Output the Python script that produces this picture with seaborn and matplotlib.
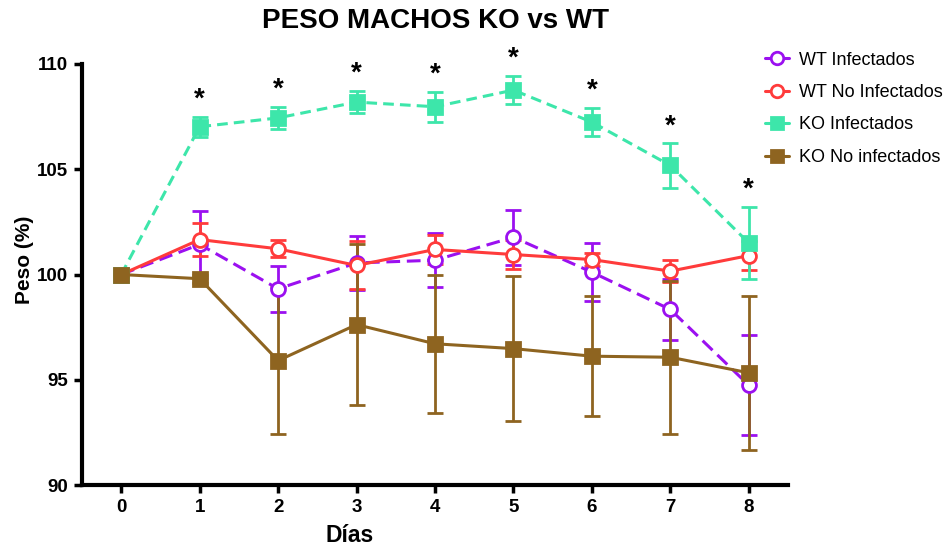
import matplotlib
matplotlib.use("Agg")
import matplotlib.pyplot as plt
import numpy as np
import pandas as pd
import seaborn as sns
from matplotlib.lines import Line2D

# ---- data ----
days = [0, 1, 2, 3, 4, 5, 6, 7, 8]
day_labels = ["0", "1", "2", "3", "4", "5", "6", "7", "8"]

wt_inf = [100.0, 101.43, 99.32, 100.55, 100.68, 101.77, 100.11, 98.34, 94.74]
wt_inf_err = [0.0, 1.6, 1.1, 1.3, 1.27, 1.3, 1.37, 1.45, 2.37]

wt_noinf = [100.0, 101.66, 101.22, 100.43, 101.19, 100.95, 100.71, 100.16, 100.9]
wt_noinf_err = [0.0, 0.78, 0.41, 1.14, 0.71, 0.71, 0.32, 0.53, 0.67]

ko_inf = [100.0, 107.02, 107.44, 108.19, 107.97, 108.76, 107.24, 105.18, 101.5]
ko_inf_err = [0.0, 0.47, 0.53, 0.54, 0.71, 0.67, 0.67, 1.05, 1.71]

ko_noinf = [100.0, 99.8, 95.91, 97.62, 96.71, 96.48, 96.12, 96.07, 95.33]
ko_noinf_err = [0.0, 0.2, 3.5, 3.83, 3.28, 3.43, 2.85, 3.63, 3.67]

signif_days = [1, 2, 3, 4, 5, 6, 7, 8]

group_names = ["WT Infectados", "WT No Infectados", "KO Infectados", "KO No infectados"]
colors = ["#9B10F0", "#FF3B3B", "#3DE6AA", "#8E6420"]

title = "PESO MACHOS KO vs WT"
xlabel = "Días"
ylabel = "Peso (%)"

# ---- styling ----
sns.set_style("ticks")
plt.rcParams["font.family"] = ["Liberation Sans", "DejaVu Sans"]
plt.rcParams["text.color"] = "black"
plt.rcParams["axes.labelcolor"] = "black"
plt.rcParams["xtick.color"] = "black"
plt.rcParams["ytick.color"] = "black"

fig = plt.figure(figsize=(9.48, 5.47), dpi=100)
ax = fig.add_axes([0.0865, 0.1133, 0.7447, 0.7697])

series = [
    (wt_inf, wt_inf_err, "o", "white", (0, (4.5, 2.2))),
    (wt_noinf, wt_noinf_err, "o", "white", "-"),
    (ko_inf, ko_inf_err, "s", None, (0, (3.5, 2))),
    (ko_noinf, ko_noinf_err, "s", None, "-"),
]

handles = []
for (vals, errs, mk, mfc, ls), name, col in zip(series, group_names, colors):
    df = pd.DataFrame({"Día": days, "Peso": vals})
    ax.errorbar(days, vals, yerr=errs, fmt="none", ecolor=col, elinewidth=2,
                capsize=6, capthick=2, zorder=2)
    kw = dict(marker=mk, markersize=10,
              markeredgecolor=col, markeredgewidth=2, linewidth=2.2,
              linestyle=ls)
    kw["markerfacecolor"] = mfc if mfc is not None else col
    sns.lineplot(data=df, x="Día", y="Peso", color=col, ax=ax, errorbar=None,
                 zorder=3, **kw)
    handles.append(Line2D([0], [0], color=col, linestyle="-", linewidth=2.2,
                          marker=mk, markersize=9, markeredgewidth=2,
                          markeredgecolor=col,
                          markerfacecolor=kw["markerfacecolor"]))

# significance asterisks above the KO Infectados error bars
for d in signif_days:
    i = days.index(d)
    ax.text(d, ko_inf[i] + ko_inf_err[i] + 0.2, "*", ha="center", va="bottom",
            fontsize=20, fontweight="bold", color="black")

ax.set_xlim(-0.5, 8.5)
ax.set_ylim(90, 110)
ax.set_xticks(days)
ax.set_xticklabels(day_labels)
ax.set_yticks([90, 95, 100, 105, 110])

for s in ["top", "right"]:
    ax.spines[s].set_visible(False)
for s in ["left", "bottom"]:
    ax.spines[s].set_linewidth(3)
    ax.spines[s].set_color("black")

ax.tick_params(axis="both", direction="out", length=6, width=2.5,
               labelsize=13.5, pad=4, colors="black", labelcolor="black")
for lab in ax.get_xticklabels() + ax.get_yticklabels():
    lab.set_fontweight("bold")

ax.set_xlabel(xlabel, fontsize=16.5, fontweight="bold", color="black")
ax.set_ylabel(ylabel, fontsize=15, fontweight="bold", color="black")
ax.xaxis.set_label_coords((350 - 82) / 706, -0.092)
ax.yaxis.set_label_coords(-0.068, 0.535)

fig.text(435 / 948, 1 - 21 / 547, title, ha="center", va="center",
         fontsize=20, fontweight="bold", color="black")

leg = fig.legend(handles, group_names, loc="upper left",
                 bbox_to_anchor=(0.79, 0.935), frameon=False, fontsize=13,
                 handlelength=1.3, handletextpad=0.6, labelspacing=0.85)
for t in leg.get_texts():
    t.set_color("black")
if ax.get_legend() is not None:
    ax.get_legend().remove()

ax.set_facecolor("white")
fig.patch.set_facecolor("white")
fig.savefig("out.png", dpi=100)
